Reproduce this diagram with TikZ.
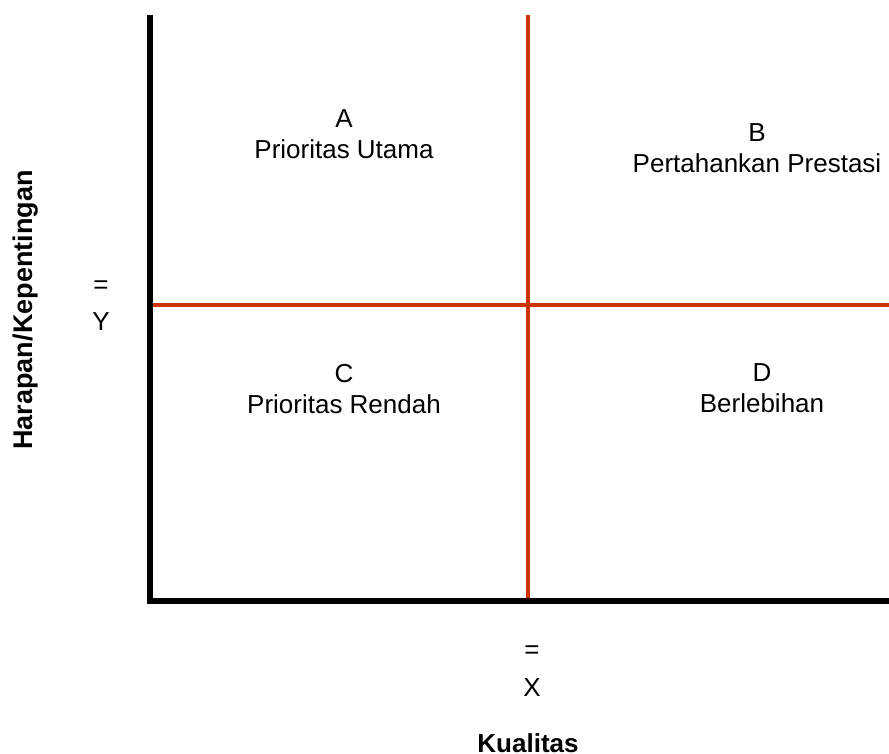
\documentclass[tikz,border=0pt]{standalone}
\usepackage{fontspec}
\setmainfont{Liberation Sans}
\definecolor{quadred}{HTML}{CC3300}
\begin{document}
\begin{tikzpicture}[x=1pt,y=-1pt,
  lbl/.style={font=\fontsize{26}{31}\selectfont, align=center, inner sep=0pt},
  axislbl/.style={font=\fontsize{26}{31}\selectfont\bfseries, inner sep=0pt},
  axisline/.style={line width=6pt, black, line join=miter},
  divline/.style={line width=3.5pt, quadred}]
\useasboundingbox (0,0) rectangle (889,753);
% coordinates
\coordinate (otop) at (150,15);
\coordinate (orig) at (150,601);
\coordinate (xend) at (889,601);
\coordinate (vtop) at (528,15);
\coordinate (vbot) at (528,601);
\coordinate (hl) at (150,305);
\coordinate (hr) at (889,305);
% divider lines
\draw[divline] (vtop) -- (vbot);
\draw[divline] (hl) -- (hr);
% axes
\draw[axisline] (otop) -- (orig) -- (xend);
% quadrant labels
\node[lbl] (qa) at (344,134) {A\\Prioritas Utama};
\node[lbl] (qb) at (757,148) {B\\Pertahankan Prestasi};
\node[lbl] (qc) at (344,389) {C\\Prioritas Rendah};
\node[lbl] (qd) at (762,388) {D\\Berlebihan};
% Y axis labels
\node[lbl] (yeq) at (101,287) {=};
\node[lbl] (yy) at (101,322) {Y};
\node[axislbl, rotate=90, font=\fontsize{27}{31}\selectfont\bfseries] (ytitle) at (26,310) {Harapan/Kepentingan};
% X axis labels
\node[lbl] (xeq) at (532,652) {=};
\node[lbl] (xx) at (532,688) {X};
\node[axislbl] (xtitle) at (528,743) {Kualitas};
\end{tikzpicture}
\end{document}
